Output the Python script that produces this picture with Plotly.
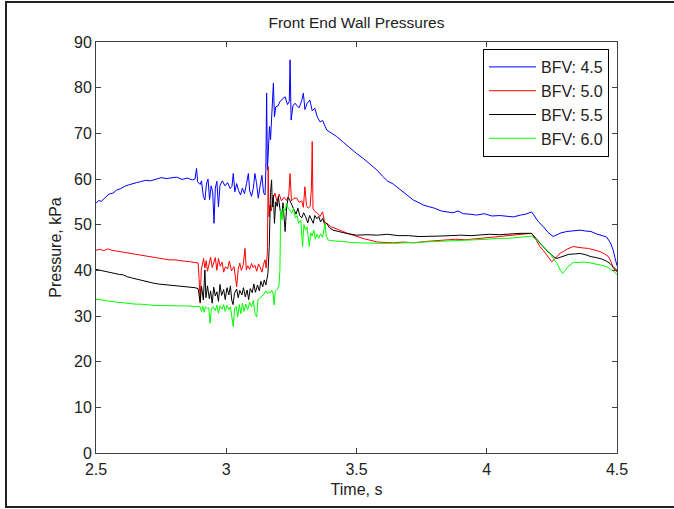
import plotly.graph_objects as go

# ---- data ----
t_45 = [2.500, 2.510, 2.520, 2.535, 2.550, 2.565, 2.580, 2.595, 2.610, 2.625, 2.640, 2.655, 2.670, 2.690,
        2.710, 2.730, 2.750, 2.770, 2.790, 2.810, 2.830, 2.850, 2.870, 2.880, 2.886, 2.890, 2.900, 2.905,
        2.912, 2.918, 2.924, 2.930, 2.936, 2.942, 2.948, 2.953, 2.958, 2.964, 2.970, 2.976, 2.985, 2.995,
        3.005, 3.015, 3.022, 3.027, 3.033, 3.040, 3.047, 3.055, 3.062, 3.070, 3.078, 3.085, 3.090, 3.097,
        3.104, 3.110, 3.116, 3.123, 3.130, 3.137, 3.143, 3.149, 3.152, 3.155, 3.158, 3.162, 3.166, 3.170,
        3.175, 3.181, 3.185, 3.190, 3.198, 3.206, 3.215, 3.226, 3.235, 3.242, 3.245, 3.249, 3.256, 3.264,
        3.272, 3.280, 3.290, 3.296, 3.302, 3.310, 3.321, 3.330, 3.340, 3.350, 3.360, 3.370, 3.386, 3.400,
        3.424, 3.450, 3.475, 3.500, 3.526, 3.550, 3.578, 3.600, 3.620, 3.641, 3.660, 3.680, 3.700, 3.718,
        3.740, 3.756, 3.780, 3.800, 3.825, 3.846, 3.870, 3.890, 3.910, 3.935, 3.961, 3.990, 4.020, 4.050,
        4.080, 4.102, 4.130, 4.150, 4.172, 4.185, 4.200, 4.217, 4.235, 4.255, 4.270, 4.285, 4.307, 4.330,
        4.358, 4.380, 4.400, 4.420, 4.435, 4.460, 4.475, 4.485, 4.492, 4.500]
p_45 = [54.7, 55.3, 55.1, 56.0, 56.7, 56.9, 57.6, 57.9, 58.4, 58.7, 59.0, 59.2, 59.4, 59.7,
        59.6, 59.9, 60.3, 60.1, 60.2, 60.4, 59.9, 60.2, 59.8, 60.0, 62.3, 59.4, 58.8, 59.6,
        56.2, 55.4, 58.9, 60.0, 55.5, 58.5, 57.2, 50.3, 58.0, 59.5, 53.9, 58.6, 59.6, 58.5,
        59.2, 57.9, 58.4, 61.2, 57.2, 59.0, 57.5, 56.5, 58.0, 56.8, 59.0, 61.2, 57.4, 56.2,
        58.0, 61.2, 59.2, 55.8, 58.5, 60.8, 57.0, 56.5, 62.0, 78.8, 62.0, 66.3, 71.5, 68.6,
        74.0, 81.0, 73.6, 75.8, 76.0, 76.9, 77.5, 78.0, 76.3, 77.0, 86.1, 72.9, 76.0, 76.6,
        76.0, 75.6, 77.2, 78.8, 75.2, 76.5, 77.3, 74.9, 75.5, 73.5, 72.5, 72.8, 70.7, 70.2,
        69.3, 68.0, 66.7, 65.6, 64.5, 63.3, 62.0, 60.6, 59.5, 58.9, 58.0, 57.2, 56.3, 55.4,
        54.8, 54.3, 53.9, 53.6, 53.0, 52.8, 52.6, 53.0, 52.4, 52.3, 52.1, 52.4, 51.9, 52.0,
        51.8, 51.7, 52.1, 52.3, 52.8, 51.8, 50.5, 49.6, 48.3, 47.4, 47.8, 48.2, 48.5, 48.7,
        48.8, 48.6, 48.5, 48.0, 47.7, 47.3, 46.0, 44.5, 42.8, 41.0]

t_50 = [2.500, 2.515, 2.530, 2.545, 2.560, 2.580, 2.600, 2.620, 2.640, 2.660, 2.680, 2.700, 2.720, 2.740,
        2.760, 2.780, 2.800, 2.820, 2.840, 2.860, 2.880, 2.892, 2.896, 2.900, 2.904, 2.908, 2.913, 2.918,
        2.923, 2.928, 2.933, 2.940, 2.946, 2.952, 2.958, 2.964, 2.970, 2.977, 2.984, 2.990, 2.997, 3.005,
        3.012, 3.020, 3.030, 3.040, 3.046, 3.052, 3.058, 3.065, 3.072, 3.077, 3.083, 3.090, 3.097, 3.103,
        3.110, 3.117, 3.124, 3.130, 3.137, 3.143, 3.149, 3.153, 3.158, 3.161, 3.164, 3.168, 3.173, 3.178,
        3.187, 3.195, 3.203, 3.212, 3.222, 3.232, 3.240, 3.245, 3.250, 3.260, 3.270, 3.280, 3.290, 3.296,
        3.302, 3.308, 3.315, 3.322, 3.327, 3.330, 3.333, 3.340, 3.350, 3.360, 3.370, 3.378, 3.386, 3.400,
        3.415, 3.430, 3.449, 3.470, 3.501, 3.530, 3.552, 3.580, 3.610, 3.640, 3.680, 3.720, 3.760, 3.800,
        3.840, 3.880, 3.920, 3.974, 4.010, 4.050, 4.090, 4.128, 4.160, 4.172, 4.190, 4.204, 4.218, 4.230,
        4.240, 4.249, 4.258, 4.270, 4.282, 4.294, 4.310, 4.332, 4.350, 4.370, 4.390, 4.410, 4.435, 4.452,
        4.467, 4.478, 4.486, 4.500]
p_50 = [44.4, 44.6, 44.3, 44.7, 44.4, 44.2, 44.0, 43.8, 43.7, 43.4, 43.3, 43.0, 42.8, 42.6,
        42.5, 42.3, 42.3, 42.1, 42.0, 41.9, 41.8, 41.6, 38.0, 32.8, 40.0, 41.0, 42.6, 40.5,
        42.1, 39.8, 41.4, 42.9, 40.6, 41.5, 42.8, 40.0, 42.6, 40.9, 41.8, 39.6, 40.8, 40.3,
        42.0, 39.9, 40.8, 36.4, 40.2, 41.6, 40.0, 41.2, 44.8, 40.1, 41.0, 40.2, 41.5, 40.6,
        41.1, 39.8, 41.4, 40.7, 39.6, 41.3, 42.3, 40.5, 44.0, 62.7, 51.7, 54.3, 53.0, 55.5,
        56.9, 55.0, 56.7, 55.2, 56.0, 55.3, 56.5, 61.2, 55.2, 55.8, 55.8, 54.9, 55.2, 53.8,
        58.3, 54.2, 53.6, 54.0, 58.0, 68.2, 53.5, 52.9, 52.5, 51.8, 52.8, 50.5, 50.3, 49.6,
        49.3, 48.9, 48.5, 48.0, 47.4, 46.9, 46.6, 46.2, 46.1, 46.0, 46.2, 46.0, 46.3, 46.5,
        46.6, 46.8, 46.7, 47.0, 47.1, 47.4, 47.5, 47.7, 47.9, 48.1, 46.6, 45.2, 44.3, 43.4,
        42.6, 41.9, 42.3, 43.0, 43.8, 44.1, 44.7, 45.2, 45.0, 44.9, 44.8, 44.5, 44.1, 43.6,
        43.0, 41.8, 40.4, 39.7]

t_55 = [2.500, 2.515, 2.530, 2.550, 2.570, 2.590, 2.605, 2.620, 2.640, 2.660, 2.680, 2.700, 2.720, 2.740,
        2.760, 2.780, 2.800, 2.820, 2.840, 2.860, 2.880, 2.892, 2.896, 2.900, 2.905, 2.912, 2.918, 2.922,
        2.928, 2.935, 2.940, 2.946, 2.952, 2.958, 2.964, 2.970, 2.976, 2.982, 2.990, 2.996, 3.003, 3.010,
        3.016, 3.021, 3.026, 3.032, 3.040, 3.046, 3.052, 3.060, 3.066, 3.073, 3.080, 3.086, 3.092, 3.100,
        3.106, 3.112, 3.120, 3.127, 3.133, 3.140, 3.146, 3.152, 3.160, 3.165, 3.170, 3.174, 3.177, 3.181,
        3.185, 3.190, 3.196, 3.200, 3.206, 3.212, 3.218, 3.226, 3.232, 3.238, 3.245, 3.253, 3.260, 3.268,
        3.275, 3.282, 3.290, 3.297, 3.305, 3.313, 3.320, 3.327, 3.334, 3.340, 3.348, 3.355, 3.362, 3.370,
        3.378, 3.386, 3.395, 3.410, 3.430, 3.460, 3.501, 3.540, 3.580, 3.620, 3.660, 3.700, 3.740, 3.780,
        3.820, 3.860, 3.900, 3.940, 3.974, 4.010, 4.050, 4.090, 4.128, 4.172, 4.188, 4.204, 4.220, 4.235,
        4.243, 4.256, 4.269, 4.285, 4.300, 4.315, 4.340, 4.358, 4.380, 4.400, 4.420, 4.440, 4.460, 4.473,
        4.488, 4.500]
p_55 = [40.2, 40.0, 39.9, 39.6, 39.3, 39.1, 39.0, 38.6, 38.3, 38.0, 37.7, 37.5, 37.2, 37.0,
        36.9, 36.8, 36.6, 36.6, 36.4, 36.3, 36.2, 36.0, 34.0, 33.0, 36.5, 33.5, 40.1, 34.0,
        36.6, 33.8, 35.5, 32.8, 36.3, 34.4, 35.3, 33.2, 36.9, 34.5, 35.8, 33.6, 36.2, 34.6,
        36.6, 33.5, 32.5, 35.0, 35.9, 34.0, 35.6, 34.6, 36.2, 34.2, 35.7, 33.6, 36.0, 35.1,
        37.0, 35.2, 36.8, 35.5, 37.6, 36.4, 37.9, 36.8, 39.3, 45.0, 57.0, 59.8, 53.9, 56.5,
        50.3, 55.0, 54.0, 56.2, 53.5, 51.5, 54.8, 48.5, 54.0, 56.0, 55.2, 54.3, 53.5, 52.3,
        53.6, 52.0, 51.5, 52.6, 51.7, 50.4, 52.0, 51.0, 50.3, 52.0, 51.3, 51.8, 50.6, 51.4,
        50.0, 50.3, 49.4, 48.8, 48.5, 48.1, 47.7, 47.8, 47.7, 47.9, 47.6, 47.6, 47.4, 47.4,
        47.5, 47.6, 47.7, 47.6, 47.7, 47.9, 47.8, 48.0, 48.1, 48.1, 47.0, 45.9, 44.9, 44.0,
        43.7, 43.0, 42.6, 42.9, 43.2, 43.5, 43.6, 43.7, 43.4, 43.0, 42.8, 42.5, 42.0, 41.5,
        40.6, 40.0]

t_60 = [2.500, 2.520, 2.540, 2.560, 2.580, 2.605, 2.630, 2.650, 2.670, 2.700, 2.730, 2.760, 2.790, 2.820,
        2.850, 2.880, 2.900, 2.905, 2.910, 2.915, 2.920, 2.928, 2.933, 2.938, 2.943, 2.950, 2.958, 2.964,
        2.970, 2.976, 2.984, 2.990, 2.996, 3.003, 3.010, 3.016, 3.021, 3.027, 3.032, 3.038, 3.044, 3.050,
        3.056, 3.062, 3.068, 3.075, 3.082, 3.090, 3.097, 3.104, 3.110, 3.117, 3.122, 3.130, 3.138, 3.145,
        3.152, 3.158, 3.162, 3.168, 3.175, 3.180, 3.184, 3.188, 3.195, 3.202, 3.206, 3.209, 3.214, 3.220,
        3.226, 3.232, 3.238, 3.245, 3.252, 3.258, 3.265, 3.272, 3.278, 3.286, 3.293, 3.298, 3.304, 3.310,
        3.314, 3.319, 3.324, 3.330, 3.336, 3.342, 3.348, 3.355, 3.362, 3.370, 3.379, 3.384, 3.392, 3.400,
        3.420, 3.450, 3.480, 3.520, 3.560, 3.600, 3.640, 3.680, 3.720, 3.760, 3.800, 3.840, 3.880, 3.920,
        3.960, 4.000, 4.040, 4.080, 4.120, 4.150, 4.172, 4.188, 4.204, 4.222, 4.243, 4.256, 4.270, 4.283,
        4.291, 4.300, 4.312, 4.332, 4.350, 4.375, 4.400, 4.420, 4.440, 4.460, 4.473, 4.488, 4.500]
p_60 = [33.7, 33.5, 33.3, 33.1, 33.0, 32.9, 32.7, 32.6, 32.6, 32.4, 32.3, 32.3, 32.2, 32.2,
        32.2, 32.1, 32.0, 31.0, 32.2, 30.8, 32.0, 31.6, 31.8, 28.4, 31.5, 32.0, 31.2, 32.4,
        30.6, 32.2, 31.5, 32.5, 31.0, 32.3, 31.4, 32.0, 29.5, 27.7, 31.6, 32.1, 29.8, 32.5,
        30.5, 32.8, 31.0, 32.6, 31.4, 33.0, 32.0, 33.4, 30.6, 29.8, 33.6, 34.0, 34.6, 34.8,
        35.5, 34.9, 35.3, 35.0, 35.6, 34.8, 32.4, 35.4, 35.8, 36.4, 40.0, 53.2, 51.0, 53.6,
        53.0, 54.7, 53.5, 53.2, 52.5, 53.6, 51.5, 52.0, 50.3, 51.0, 45.2, 50.0, 48.8, 49.5,
        47.6, 45.2, 48.2, 47.5, 48.8, 46.8, 47.9, 47.0, 48.0, 47.2, 50.3, 47.5, 46.6, 46.5,
        46.4, 46.3, 46.1, 46.0, 45.9, 45.9, 45.9, 46.0, 46.0, 46.1, 46.2, 46.3, 46.5, 46.6,
        46.7, 46.8, 47.0, 47.0, 47.2, 47.3, 47.5, 46.8, 45.9, 44.8, 43.7, 42.5, 41.5, 40.0,
        39.3, 39.9, 40.8, 41.7, 41.8, 41.8, 41.6, 41.4, 41.1, 40.8, 40.4, 39.8, 39.0]

series_names = ["BFV: 4.5", "BFV: 5.0", "BFV: 5.5", "BFV: 6.0"]
x_ticks = [2.5, 3, 3.5, 4, 4.5]
x_tick_labels = ["2.5", "3", "3.5", "4", "4.5"]
y_ticks = [0, 10, 20, 30, 40, 50, 60, 70, 80, 90]

# ---- figure ----
FONT = "Liberation Sans, Arial, sans-serif"
colors = ["#0000FF", "#FF0000", "#000000", "#00FF00"]
data = [(t_45, p_45), (t_50, p_50), (t_55, p_55), (t_60, p_60)]

fig = go.Figure()
for (tx, py), name, c in zip(data, series_names, colors):
    fig.add_trace(go.Scatter(x=tx, y=py, mode="lines", name=name,
                             line=dict(color=c, width=1)))

axis_common = dict(showline=True, linecolor="#404040", linewidth=1, mirror="ticks",
                   ticks="inside", ticklen=5, tickcolor="#404040", showgrid=False,
                   zeroline=False, tickfont=dict(family=FONT, size=16, color="#222"))

fig.update_layout(
    width=674, height=509,
    margin=dict(l=96, r=57, t=42, b=56),
    paper_bgcolor="white", plot_bgcolor="white",
    font=dict(family=FONT, size=16, color="#222"),
    title=dict(text="Front End Wall Pressures", x=0.5, xref="paper", y=1 - 23 / 509,
               yref="container", xanchor="center", yanchor="middle",
               font=dict(family=FONT, size=15.5, color="#222")),
    xaxis=dict(range=[2.5, 4.5], tickvals=x_ticks, ticktext=x_tick_labels,
               ticklabelstandoff=2,
               title=dict(text="Time, s", font=dict(family=FONT, size=16), standoff=6),
               **axis_common),
    yaxis=dict(range=[0, 90], tickvals=y_ticks,
               title=dict(text="Pressure, kPa", font=dict(family=FONT, size=16), standoff=8),
               **axis_common),
    legend=dict(x=(609 - 96) / 521, y=(453 - 49) / 411, xanchor="right", yanchor="top",
                bordercolor="#000", borderwidth=1, bgcolor="white",
                font=dict(family=FONT, size=16, color="#222"), itemwidth=47,
                tracegroupgap=0),
    showlegend=True,
)

# outer frame of the picture
fig.add_shape(type="rect", xref="paper", yref="paper",
              x0=(6 - 96) / 521, x1=(677 - 96) / 521,
              y0=(453 - 507) / 411, y1=(453 - 2) / 411,
              line=dict(color="#222", width=2), fillcolor="rgba(0,0,0,0)", layer="below")

fig.write_html("out.html",
               config={"displayModeBar": False},
               post_script="document.body.style.margin='0';"
                           "document.body.style.overflow='hidden';"
                           "document.documentElement.style.overflow='hidden';")
